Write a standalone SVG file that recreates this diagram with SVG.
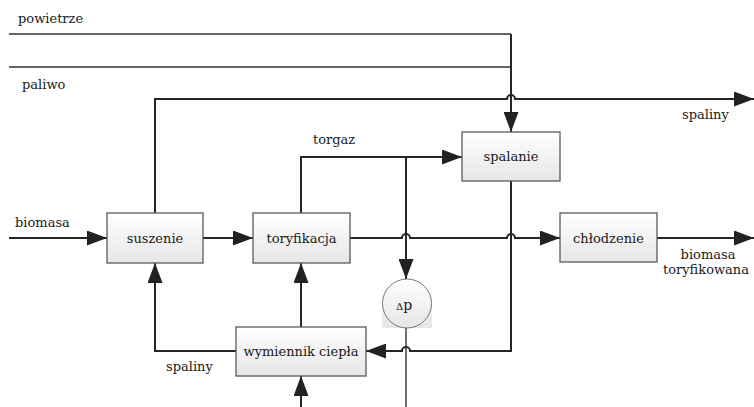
<svg xmlns="http://www.w3.org/2000/svg" width="754" height="407" viewBox="0 0 754 407">
<style>
.box{stroke:#5a5a5a;stroke-width:1.3;fill:url(#g)}
.t{font-family:"DejaVu Serif","Liberation Serif",serif;font-size:13px;fill:#1a1a1a}
.c{text-anchor:middle}
.ln{fill:none;stroke:#262626;stroke-width:2}
.thin{fill:none;stroke:#333;stroke-width:1.4}
</style>
<defs>
<linearGradient id="g" x1="0" y1="0" x2="0" y2="1">
<stop offset="0" stop-color="#ffffff"/>
<stop offset="1" stop-color="#e6e6e6"/>
</linearGradient>
<marker id="a" viewBox="0 0 20 15" markerWidth="20" markerHeight="15" refX="20" refY="7.5" orient="auto" markerUnits="userSpaceOnUse">
<path d="M0,0 L20,7.5 L0,15 z" fill="#222"/>
</marker>
</defs>
<g id="connectors">
<path class="thin" d="M9,34 L511,34"/>
<path class="thin" d="M9,67 L511,67"/>
<path class="ln" d="M511,34 L511,132" marker-end="url(#a)"/>
<path class="ln" d="M155,213 L155,99 L507,99 A4,4 0 0 1 515,99 L754,99" marker-end="url(#a)"/>
<path class="ln" d="M9,238 L107,238" marker-end="url(#a)"/>
<path class="ln" d="M203,238 L253,238" marker-end="url(#a)"/>
<path class="ln" d="M350,238 L402,238 A4,4 0 0 1 410,238 L507,238 A4,4 0 0 1 515,238 L560,238" marker-end="url(#a)"/>
<path class="ln" d="M657,238 L754,238" marker-end="url(#a)"/>
<path class="ln" d="M301,213 L301,157 L462,157" marker-end="url(#a)"/>
<path class="ln" d="M406,157 L406,279" marker-end="url(#a)"/>
<path class="thin" d="M406,328 L406,407"/>
<path class="ln" d="M511,181 L511,351 L410,351 A4,4 0 0 0 402,351 L366,351" marker-end="url(#a)"/>
<path class="ln" d="M301,327 L301,263" marker-end="url(#a)"/>
<path class="ln" d="M236,351 L155,351 L155,263" marker-end="url(#a)"/>
<path class="ln" d="M301,407 L301,376" marker-end="url(#a)"/>
</g>
<g id="suszenie"><rect class="box" x="107" y="213" width="96" height="50"/><text class="t c" x="155" y="242.5">suszenie</text></g>
<g id="toryfikacja"><rect class="box" x="253" y="213" width="97" height="50"/><text class="t c" x="301.5" y="242.5">toryfikacja</text></g>
<g id="spalanie"><rect class="box" x="462" y="132" width="98" height="49"/><text class="t c" x="511" y="161">spalanie</text></g>
<g id="chlodzenie"><rect class="box" x="560" y="213" width="97" height="49"/><text class="t c" x="608.5" y="242.5">chłodzenie</text></g>
<g id="wymiennik"><rect class="box" x="236" y="327" width="130" height="49"/><text class="t c" x="301" y="356">wymiennik ciepła</text></g>
<g id="dp">
<rect x="382" y="279" width="50" height="49" fill="url(#g)"/>
<circle cx="407" cy="303.5" r="24.5" fill="url(#g)" stroke="#777" stroke-width="1"/>
<text class="t c" x="404" y="309.5"><tspan font-size="10">Δ</tspan><tspan font-size="14">p</tspan></text>
</g>
<g id="labels">
<text class="t" x="18" y="23">powietrze</text>
<text class="t" x="22" y="89">paliwo</text>
<text class="t" x="682" y="119">spaliny</text>
<text class="t" x="313" y="144">torgaz</text>
<text class="t" x="15" y="227">biomasa</text>
<text class="t c" x="708" y="259">biomasa</text>
<text class="t c" x="706" y="274">toryfikowana</text>
<text class="t" x="166" y="371">spaliny</text>
</g>
</svg>
